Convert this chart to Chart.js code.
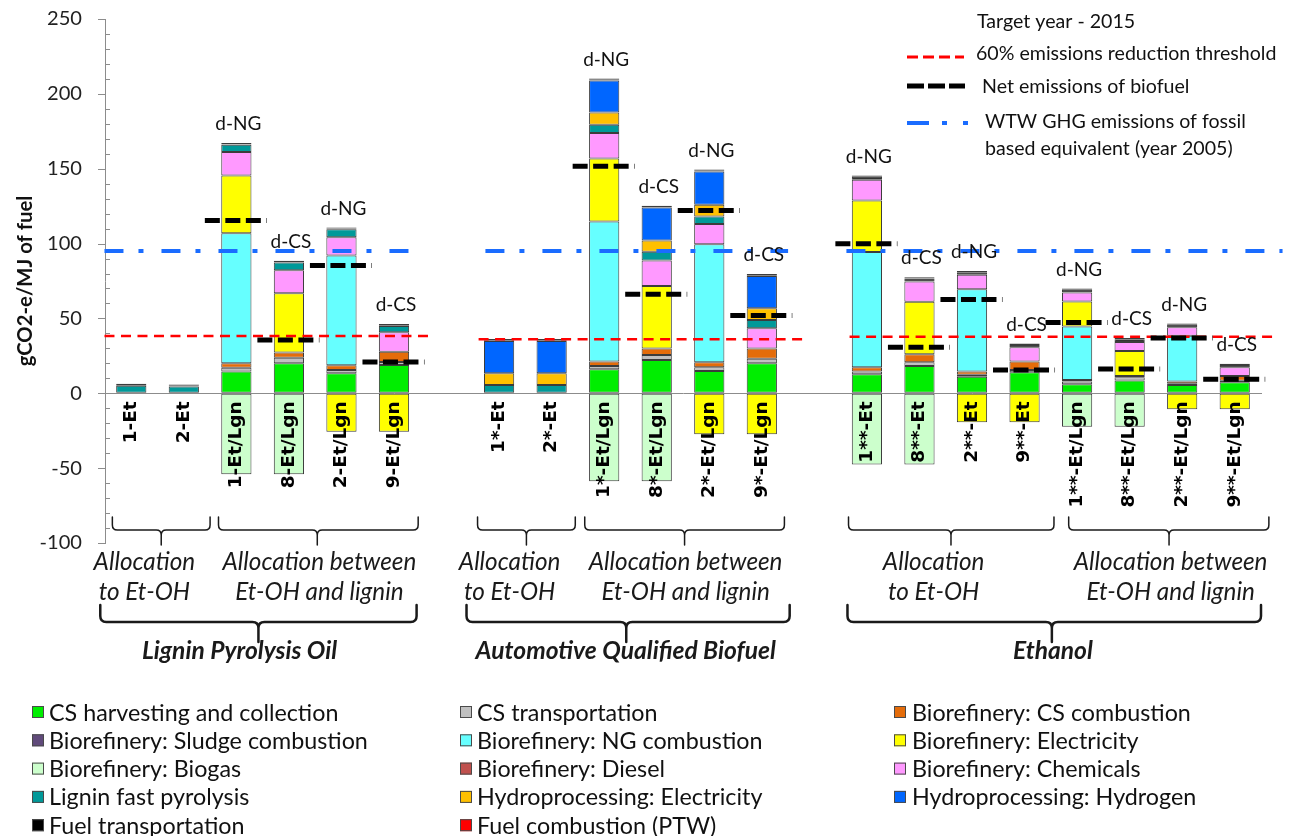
<!DOCTYPE html>
<html><head><meta charset="utf-8">
<script src="https://cdn.jsdelivr.net/npm/chart.js@4.4.1/dist/chart.umd.min.js"></script>
<style>
html,body{margin:0;padding:0;background:#fff;}
#wrap{position:relative;width:1291px;height:836px;}
canvas{display:block;}
</style></head><body>
<div id="wrap"><canvas id="c" width="1291" height="836"></canvas></div>
<script>
// ---------- DATA ----------
const categories = ['1-Et','2-Et','1-Et/Lgn','8-Et/Lgn','2-Et/Lgn','9-Et/Lgn','',
  '1*-Et','2*-Et','1*-Et/Lgn','8*-Et/Lgn','2*-Et/Lgn','9*-Et/Lgn','',
  '1**-Et','8**-Et','2**-Et','9**-Et','1**-Et/Lgn','8**-Et/Lgn','2**-Et/Lgn','9**-Et/Lgn'];
const configLabels = ['','','d-NG','d-CS','d-NG','d-CS','',
  '','','d-NG','d-CS','d-NG','d-CS','',
  'd-NG','d-CS','d-NG','d-CS','d-NG','d-CS','d-NG','d-CS'];

const csHarvesting     = [0,0,14.5,20.0,13.4,18.9,null, 0,0,16.0,22.3,14.9,20.1,null, 12.7,18.3,11.1,14.0,6.0,8.5,5.6,7.4];
const csTransportation = [0,0,2.5,3.8,2.2,2.0,null, 0,0,2.3,3.3,2.5,2.9,null, 1.8,2.4,1.2,1.5,1.8,2.2,0.8,1.0];
const csCombustion     = [0,0,3.0,3.4,3.1,6.9,null, 0,0,2.9,4.3,3.3,6.9,null, 2.9,5.4,2.2,5.7,1.1,0.9,1.4,3.2];
const sludgeCombustion = [0,0,0,0,0,0,null, 0,0,0,0,0,0,null, 0,0,0,0,0,0,0,0];
const ngCombustion     = [0,0,86.9,0,73.3,0,null, 0,0,93.6,0,78.9,0,null, 76.9,0,55.0,0,35.7,0,30.7,0];
const electricity      = [0,0,38.6,39.6,-25.7,-25.7,null, 0,0,42.1,41.8,-27.4,-27.4,null, 34.5,35.0,-19.4,-19.4,16.7,16.7,-10.7,-10.7];
const biogas           = [0,0,-54.1,-54.1,0,0,null, 0,0,-58.8,-58.8,0,0,null, -47.5,-47.5,0,0,-22.3,-22.3,0,0];
const diesel           = [0,0,0,0,0,0,null, 0,0,0,0,0,0,null, 0,0,0,0,0,0,0,0];
const chemicals        = [0,0,15.6,15.4,12.3,13.0,null, 0,0,16.9,17.0,13.4,13.5,null, 13.8,13.5,9.6,9.5,6.0,6.0,5.6,5.8];
const ligninPyrolysis  = [5.1,4.6,4.9,5.1,5.3,4.2,null, 5.6,5.6,5.6,5.8,5.1,5.6,null, 0,0,0,0,0,0,0,0];
const hydroElectricity = [0,0,0,0,0,0,null, 7.8,7.8,8.2,7.6,7.8,7.8,null, 0,0,0,0,0,0,0,0];
const hydroHydrogen    = [0,0,0,0,0,0,null, 21.6,21.6,21.4,22.0,22.3,21.6,null, 0,0,0,0,0,0,0,0];
const fuelTransport    = [0.4,0.4,0.4,0.4,0.4,0.4,null, 0.4,0.4,0.4,0.4,0.4,0.4,null, 2.0,2.0,1.7,1.6,1.8,1.8,1.6,1.5];
const fuelCombustion   = [0.8,0.8,0.8,0.8,0.8,0.8,null, 0.8,0.8,0.8,0.8,0.8,0.8,null, 0.9,0.9,0.9,0.9,0.9,0.9,0.9,0.9];
const netEmissions     = [null,null,115.4,35.6,85.4,20.9,null, null,null,151.7,66.2,122.1,51.9,null, 99.8,30.7,62.6,15.6,47.2,16.3,37.0,9.4];

// one value per fuel group
const reductionThreshold = [38.3, 36.1, 37.8];
const fossilEquivalent   = [95.0, 95.0, 95.0];
const yTicks = [-100,-50,0,50,100,150,200,250];

// ---------- STYLE ----------
const series = [
  ['CS harvesting and collection', csHarvesting, '#00ee00'],
  ['CS transportation', csTransportation, '#c0c0c0'],
  ['Biorefinery: CS combustion', csCombustion, '#e46c0a'],
  ['Biorefinery: Sludge combustion', sludgeCombustion, '#604a7b'],
  ['Biorefinery: NG combustion', ngCombustion, '#66ffff'],
  ['Biorefinery: Electricity', electricity, '#ffff00'],
  ['Biorefinery: Biogas', biogas, '#ccffcc'],
  ['Biorefinery: Diesel', diesel, '#c0504d'],
  ['Biorefinery: Chemicals', chemicals, '#ff99ff'],
  ['Lignin fast pyrolysis', ligninPyrolysis, '#009999'],
  ['Hydroprocessing: Electricity', hydroElectricity, '#ffc000'],
  ['Hydroprocessing: Hydrogen', hydroHydrogen, '#0066ff'],
  ['Fuel transportation', fuelTransport, '#000000'],
  ['Fuel combustion (PTW)', fuelCombustion, '#ff0000']
];

const FAM = 'Lato, "Open Sans", sans-serif';
const mctx = document.createElement('canvas').getContext('2d');
function fit(text, target, style) {
  mctx.font = style + ' 100px ' + FAM;
  return +(100 * target / mctx.measureText(text).width).toFixed(1);
}
const szLegend = fit('Biorefinery: Sludge combustion', 319, 'normal 400');
const szTop    = fit('60% emissions reduction threshold', 301, 'normal 400');
const szAnno   = fit('Allocation between', 194, 'italic 400');
const szTitle  = fit('Automotive Qualified Biofuel', 301, 'italic 700');
const szCfg    = fit('d-NG', 46, 'normal 400');
const szYTitle = fit('gCO2-e/MJ of fuel', 171, 'normal 700');
const szYTick  = fit('250', 35, 'normal 400');

// line helper datasets (on a hidden linear x axis aligned with category slots)
const netPts = [];
netEmissions.forEach((v, i) => { if (v != null) netPts.push({x: i - 0.6, y: v}, {x: i + 0.58, y: v}, {x: i + 0.59, y: null}); });
const redSpans = [[-0.51, 5.73], [6.61, 12.82], [13.67, 21.73]];
const blueSpans = [[-0.51, 5.3], [6.74, 12.5], [13.61, 21.91]];
function spanPts(spans, vals) {
  const p = [];
  spans.forEach((s, k) => p.push({x: s[0], y: vals[k]}, {x: s[1], y: vals[k]}, {x: s[1] + 0.01, y: null}));
  return p;
}

const datasets = series.map(s => ({
  type: 'bar', label: s[0], data: s[1], backgroundColor: s[2],
  borderColor: '#3c3c3c', borderWidth: 1, borderSkipped: false,
  xAxisID: 'x', yAxisID: 'y', order: 2, grouped: false,
  barPercentage: 0.575, categoryPercentage: 1
}));
datasets.push({
  type: 'line', label: 'Net emissions of biofuel', data: netPts, xAxisID: 'x2', yAxisID: 'y2',
  borderColor: '#000', borderWidth: 5, borderDash: [15, 5.5], pointRadius: 0, spanGaps: false, order: 0, clip: false
});
datasets.push({
  type: 'line', label: '60% emissions reduction threshold', data: spanPts(redSpans, reductionThreshold), xAxisID: 'x2', yAxisID: 'y2',
  borderColor: '#ff0000', borderWidth: 2.5, borderDash: [10, 6.5], pointRadius: 0, spanGaps: false, order: 1, clip: false
});
datasets.push({
  type: 'line', label: 'WTW GHG emissions of fossil based equivalent (year 2005)', data: spanPts(blueSpans, fossilEquivalent), xAxisID: 'x2', yAxisID: 'y2',
  borderColor: '#1a6cff', borderWidth: 4, borderDash: [19, 15, 5, 18], pointRadius: 0, spanGaps: false, order: 1, clip: false
});

// ---------- PLUGINS ----------
const yTickMarks = {
  id: 'yTickMarks',
  afterDraw(chart) {
    const {ctx, scales: {y}, chartArea} = chart;
    ctx.save(); ctx.strokeStyle = '#8c8c8c'; ctx.lineWidth = 1;
    for (let v = -100; v <= 250; v += 10) {
      const py = Math.round(y.getPixelForValue(v)) + 0.5;
      ctx.beginPath();
      if (v % 50 === 0) { ctx.moveTo(chartArea.left - 7, py); ctx.lineTo(chartArea.left, py); }
      else { ctx.moveTo(chartArea.left, py); ctx.lineTo(chartArea.left + 5, py); }
      ctx.stroke();
    }
    ctx.restore();
  }
};

const cfgLabels = {
  id: 'cfgLabels',
  afterDatasetsDraw(chart) {
    const {ctx, scales: {x, y}} = chart;
    ctx.save();
    ctx.font = `400 ${szCfg}px ${FAM}`; ctx.fillStyle = '#111';
    ctx.textAlign = 'center'; ctx.textBaseline = 'middle';
    configLabels.forEach((t, i) => {
      if (!t) return;
      let top = 0;
      chart.data.datasets.forEach(ds => { if (ds.type === 'bar') { const v = ds.data[i]; if (v > 0) top += v; } });
      ctx.fillText(t, x.getPixelForValue(i) + 2, y.getPixelForValue(top) - 19);
    });
    ctx.restore();
  }
};

function bracket(ctx, x1, x2, xc, yTop, yMid, yTip, r) {
  ctx.beginPath();
  ctx.moveTo(x1, yTop); ctx.lineTo(x1, yMid - r); ctx.quadraticCurveTo(x1, yMid, x1 + r, yMid);
  ctx.lineTo(xc - r, yMid); ctx.quadraticCurveTo(xc, yMid, xc, yMid + r); ctx.lineTo(xc, yTip);
  ctx.moveTo(xc, yMid + r); ctx.quadraticCurveTo(xc, yMid, xc + r, yMid);
  ctx.lineTo(x2 - r, yMid); ctx.quadraticCurveTo(x2, yMid, x2, yMid - r); ctx.lineTo(x2, yTop);
  ctx.stroke();
}

const groupNotes = {
  id: 'groupNotes',
  afterDraw(chart) {
    const {ctx, chartArea} = chart;
    const x2 = chart.scales.x2;
    const px = v => x2.getPixelForValue(v);
    const b = chartArea.bottom;
    ctx.save();
    ctx.strokeStyle = '#1a1a1a'; ctx.lineCap = 'round'; ctx.lineJoin = 'round';
    const small = [[-0.36, 1.5, 0.57], [1.66, 5.46, 3.54], [6.59, 8.45, 7.52], [8.63, 12.43, 10.53], [13.65, 17.56, 15.6], [17.84, 21.65, 19.75]];
    ctx.lineWidth = 1.5;
    small.forEach(s => bracket(ctx, px(s[0]), px(s[1]), px(s[2]), b - 26, b - 13, b + 2, 5));
    const big = [[-0.59, 5.43, 2.42], [6.38, 12.53, 9.42], [13.63, 21.5, 17.52]];
    ctx.lineWidth = 2.5;
    big.forEach(s => bracket(ctx, px(s[0]), px(s[1]), px(s[2]), b + 62, b + 79, b + 99, 6));

    ctx.fillStyle = '#1a1a1a'; ctx.textAlign = 'center'; ctx.textBaseline = 'middle';
    ctx.font = `italic 400 ${szAnno}px ${FAM}`;
    const notes = [[0.25, 'Allocation', 'to Et-OH'], [3.58, 'Allocation between', 'Et-OH and lignin'],
                   [7.2, 'Allocation', 'to Et-OH'], [10.55, 'Allocation between', 'Et-OH and lignin'],
                   [15.27, 'Allocation', 'to Et-OH'], [19.78, 'Allocation between', 'Et-OH and lignin']];
    notes.forEach(n => { ctx.fillText(n[1], px(n[0]), b + 19); ctx.fillText(n[2], px(n[0]), b + 49); });
    ctx.font = `italic 700 ${szTitle}px ${FAM}`;
    [[2.06, 'Lignin Pyrolysis Oil'], [9.41, 'Automotive Qualified Biofuel'], [17.54, 'Ethanol']]
      .forEach(t => ctx.fillText(t[1], px(t[0]), b + 108));
    ctx.restore();
  }
};

const bottomLegend = {
  id: 'bottomLegend',
  afterDraw(chart) {
    const {ctx} = chart;
    const cols = [[32, 49], [460, 477], [894, 912]];
    ctx.save();
    ctx.font = `400 ${szLegend}px ${FAM}`; ctx.textBaseline = 'middle'; ctx.textAlign = 'left';
    chart.data.datasets.filter(d => d.type === 'bar').forEach((ds, k) => {
      const c = cols[k % 3], yy = 712 + Math.floor(k / 3) * 28.3;
      ctx.fillStyle = ds.backgroundColor; ctx.fillRect(c[0], yy - 6, 12, 12);
      ctx.strokeStyle = '#4a4a4a'; ctx.lineWidth = 1; ctx.strokeRect(c[0] + 0.5, yy - 6 + 0.5, 11, 11);
      ctx.fillStyle = '#111'; ctx.fillText(ds.label, c[1], yy + 1);
    });
    ctx.restore();
  }
};

const topLegend = {
  id: 'topLegend',
  afterDraw(chart) {
    const {ctx} = chart;
    ctx.save();
    ctx.font = `400 ${szTop}px ${FAM}`; ctx.textBaseline = 'middle'; ctx.textAlign = 'left'; ctx.fillStyle = '#111';
    ctx.fillText('Target year - 2015', 977, 22);
    ctx.fillText('60% emissions reduction threshold', 976, 54);
    ctx.fillText('Net emissions of biofuel', 982, 87);
    ctx.fillText('WTW GHG emissions of fossil', 985, 122);
    ctx.fillText('based equivalent (year 2005)', 985, 149);
    ctx.lineCap = 'butt';
    ctx.strokeStyle = '#ff0000'; ctx.lineWidth = 3; ctx.setLineDash([11, 5]);
    ctx.beginPath(); ctx.moveTo(907, 57); ctx.lineTo(964, 57); ctx.stroke();
    ctx.strokeStyle = '#000'; ctx.lineWidth = 5; ctx.setLineDash([17, 4]);
    ctx.beginPath(); ctx.moveTo(907, 86); ctx.lineTo(965, 86); ctx.stroke();
    ctx.strokeStyle = '#1a6cff'; ctx.lineWidth = 4; ctx.setLineDash([22, 13, 5, 16, 5, 100]);
    ctx.beginPath(); ctx.moveTo(907, 123); ctx.lineTo(968, 123); ctx.stroke();
    ctx.restore();
  }
};

// ---------- CHART ----------
new Chart(document.getElementById('c'), {
  type: 'bar',
  data: { labels: categories, datasets },
  plugins: [yTickMarks, cfgLabels, groupNotes, bottomLegend, topLegend],
  options: {
    responsive: false, animation: false, devicePixelRatio: 1,
    layout: { padding: { left: 0, top: 19, right: 30, bottom: 293 } },
    plugins: { legend: { display: false }, tooltip: { enabled: false } },
    scales: {
      x: {
        type: 'category', position: { y: 0 }, stacked: true, offset: true,
        grid: { display: false, drawTicks: false },
        border: { display: true, color: '#8c8c8c', width: 1 },
        ticks: { z: 1, autoSkip: false, minRotation: 90, maxRotation: 90, padding: 8,
                 color: '#000', font: { family: '"DejaVu Sans", sans-serif', size: 18.5, weight: '700' } }
      },
      y: {
        type: 'linear', stacked: true, min: -100, max: 250,
        afterBuildTicks: s => { s.ticks = yTicks.map(v => ({ value: v })); },
        afterFit: s => { s.width = 105; },
        grid: { drawOnChartArea: false, drawTicks: true, tickLength: 19, tickColor: 'rgba(0,0,0,0)' },
        border: { display: true, color: '#8c8c8c', width: 1 },
        ticks: { padding: 4, color: '#222', font: { family: FAM, size: szYTick } },
        title: { display: true, text: 'gCO2-e/MJ of fuel', color: '#111', padding: { top: 13, bottom: 0 },
                 font: { family: FAM, size: szYTitle, weight: '700' } }
      },
      x2: { type: 'linear', display: false, offset: false, min: -0.5, max: 21.5 },
      y2: { type: 'linear', display: false, min: -100, max: 250 }
    }
  }
});
</script>
</body></html>
